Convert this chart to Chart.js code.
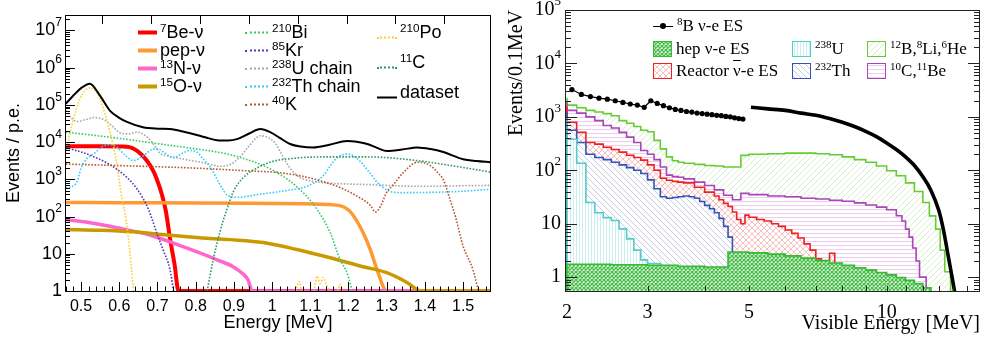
<!DOCTYPE html>
<html lang="en">
<head>
<meta charset="UTF-8">
<title>Solar neutrino spectra</title>
<style>
  html, body { margin: 0; padding: 0; background: #fff; }
  #page { position: relative; width: 984px; height: 342px; overflow: hidden; }
  #page canvas { position: absolute; top: 0; }
  #leftChart { left: 0; }
  #rightChart { left: 500px; }
  #keys { position: absolute; left: 0; top: 0; width: 984px; height: 342px; pointer-events: none; }
  .key { position: absolute; display: flex; align-items: center; white-space: nowrap; line-height: 1; transform: translateY(-50%); color: #000; }
  .key.sans { font: 18px "Liberation Sans", Arial, sans-serif; }
  .key.serif { font: 17px "Liberation Serif", "Times New Roman", serif; }
  .key sup { font-size: 0.65em; position: relative; top: -0.5em; vertical-align: baseline; line-height: 0; }
  .key .stroke { display: inline-block; height: 0; }
  .key .box { display: inline-block; width: 19px; height: 16px; box-sizing: border-box; margin-right: 4px; }
  .key .bar { text-decoration: overline; }
</style>
</head>
<body>
<div id="page">
  <canvas id="leftChart" width="500" height="342"></canvas>
  <canvas id="rightChart" width="484" height="342"></canvas>
  <div id="keys"></div>
</div>

<script type="text/javascript" src="https://cdn.jsdelivr.net/npm/chart.js/dist/chart.umd.min.js"></script>
<script>
  // ---------- left panel: expected spectra, [energy MeV, events / p.e.] ----------
  const be7 = [[0.46,7800],[0.55,7700],[0.62,7500],[0.647,5800],[0.673,3100],[0.69,1600],[0.70,900],[0.712,380],[0.722,140],[0.733,25],[0.745,5],[0.755,1],[1.575,1]];
  const pep = [[0.46,240],[0.6,236],[0.8,230],[1.0,225],[1.15,210],[1.2,150],[1.23,54],[1.257,13],[1.275,3.7],[1.30,1],[1.575,1]];
  const n13 = [[0.46,83],[0.52,69],[0.594,50],[0.68,32],[0.767,15.5],[0.856,6.9],[0.898,4.5],[0.925,2.8],[0.937,2],[0.948,1],[1.575,1]];
  const o15 = [[0.46,45],[0.55,43],[0.636,39],[0.725,32],[0.81,27],[0.89,24],[0.977,20],[1.065,13],[1.152,7.8],[1.238,4.5],[1.30,3.1],[1.353,1.7],[1.39,1],[1.575,1]];
  const bi210 = [[0.46,18600],[0.6,12600],[0.707,8900],[0.80,6600],[0.882,4800],[0.95,3000],[1.0,1800],[1.047,890],[1.09,355],[1.118,155],[1.152,37],[1.178,6.9],[1.196,3.1],[1.21,1]];
  const kr85 = [[0.46,7200],[0.53,4200],[0.594,1860],[0.646,560],[0.676,160],[0.70,32],[0.715,12.6],[0.733,3.7],[0.742,1]];
  const u238 = [[0.46,70800],[0.475,44700],[0.49,35500],[0.51,39800],[0.535,45700],[0.56,39800],[0.58,28200],[0.602,17800],[0.625,16600],[0.646,18600],[0.665,15800],[0.686,10000],[0.707,5000],[0.73,4200],[0.751,3800],[0.78,3300],[0.812,2900],[0.84,2500],[0.864,2240],[0.89,2500],[0.916,4000],[0.94,7900],[0.969,14800],[0.99,13200],[1.01,8900],[1.029,4000],[1.047,2000],[1.065,1260],[1.09,955],[1.126,830],[1.257,720],[1.387,650],[1.571,690]];
  const th232 = [[0.46,600],[0.475,630],[0.49,890],[0.50,2000],[0.515,3550],[0.535,5000],[0.555,7600],[0.576,8500],[0.595,7100],[0.615,4500],[0.636,3200],[0.662,4200],[0.685,6300],[0.70,6600],[0.72,5000],[0.741,3800],[0.765,5000],[0.786,6000],[0.805,5200],[0.82,3500],[0.84,2000],[0.856,1000],[0.87,560],[0.882,380],[0.91,330],[0.935,350],[0.97,400],[1.008,450],[1.05,525],[1.081,600],[1.11,800],[1.134,1260],[1.155,2500],[1.17,3800],[1.199,4800],[1.22,3800],[1.238,2500],[1.258,1400],[1.275,830],[1.30,525],[1.317,450],[1.35,440],[1.43,450],[1.50,480],[1.571,540]];
  const k40 = [[0.46,2570],[0.6,2340],[0.8,2000],[0.95,1660],[1.008,1550],[1.081,1200],[1.13,890],[1.17,650],[1.223,350],[1.257,200],[1.27,132],[1.285,200],[1.30,450],[1.317,710],[1.345,1580],[1.38,2880],[1.41,2500],[1.432,1580],[1.45,890],[1.466,280],[1.48,100],[1.50,16],[1.526,3.7],[1.54,1]];
  const po210 = [[0.46,5000],[0.47,15800],[0.48,41700],[0.497,144500],[0.51,240000],[0.524,288000],[0.537,240000],[0.55,145000],[0.563,56000],[0.576,18600],[0.594,2500],[0.607,300],[0.615,126],[0.628,11],[0.637,1],
                 [0.70,null],[1.062,1],[1.07,1.8],[1.078,1],[1.09,null],[1.11,1],[1.118,2.5],[1.126,1.6],[1.134,2.3],[1.142,1.5],[1.15,1],[1.16,null],[1.172,1],[1.178,1.5],[1.184,1]];
  const c11 = [[0.83,1],[0.845,6.3],[0.864,40],[0.882,160],[0.90,500],[0.93,1260],[0.96,2000],[1.0,3000],[1.06,3700],[1.13,4000],[1.25,4000],[1.39,3100],[1.48,2240],[1.575,1550]];
  const dataset = [[0.46,107000],[0.48,178000],[0.50,282000],[0.523,372000],[0.55,174000],[0.576,69000],[0.60,45000],[0.62,35000],[0.662,25100],[0.70,23000],[0.733,22400],[0.76,20000],[0.793,16600],[0.825,13500],[0.856,11200],[0.885,11000],[0.908,12000],[0.94,17000],[0.969,22400],[0.995,18600],[1.02,13000],[1.047,8900],[1.075,7600],[1.107,7200],[1.15,8500],[1.196,10700],[1.225,10000],[1.249,8900],[1.275,7000],[1.301,5750],[1.34,6300],[1.38,7200],[1.415,6500],[1.448,5400],[1.50,3470],[1.535,3100],[1.571,2880]];

  const energyTicks = [0.5, 0.6, 0.7, 0.8, 0.9, 1.0, 1.1, 1.2, 1.3, 1.4, 1.5];
  const topAxisTicks = [0.555, 0.683, 0.811, 0.939, 1.067, 1.195, 1.323, 1.451];

  // ---------- right panel: stacked histograms, [bin low edge MeV, events / 0.1 MeV] ----------
  const b12Li8He6 = [[2.0,2290],[2.1,1660],[2.2,1480],[2.3,1320],[2.4,1230],[2.5,1150],[2.6,1050],[2.7,850],[2.8,760],[2.9,660],[3.0,560],[3.1,525],[3.2,363],[3.3,251],[3.4,178],[3.5,151],[3.6,141],[3.8,135],[4.0,129],[4.2,123],[4.4,120],[4.6,115],[4.8,115],[5.0,190],[5.5,200],[6.0,204],[6.5,209],[7.0,209],[7.5,204],[8.0,195],[8.5,178],[9.0,158],[9.5,141],[10.0,120],[10.5,98],[11.0,79],[11.5,58],[12.0,40],[12.4,25],[12.8,14],[13.1,7.9],[13.4,3.2],[13.6,1.26],[13.8,null]];
  const c10Be11 = [[2.0,1860],[2.1,1320],[2.2,1175],[2.3,1000],[2.4,850],[2.5,690],[2.6,620],[2.7,513],[2.8,417],[2.9,331],[3.0,234],[3.1,200],[3.2,158],[3.3,115],[3.4,81],[3.5,76],[3.6,74],[3.8,69],[4.0,60],[4.2,52],[4.4,43],[4.6,34],[4.8,28],[5.0,37],[5.5,35],[6.0,33],[6.5,32],[7.0,30],[7.5,29],[8.0,27.5],[8.5,26.3],[9.0,24.5],[9.5,22.4],[10.0,20.4],[10.5,18.2],[10.8,14.1],[11.0,11.2],[11.2,7.9],[11.4,5.6],[11.6,3.5],[11.8,2.0],[12.0,1.0],[12.2,null]];
  const reactor = [[2.0,1510],[2.1,794],[2.2,513],[2.3,331],[2.4,309],[2.5,269],[2.6,245],[2.7,219],[2.8,191],[2.9,174],[3.0,155],[3.1,126],[3.2,100],[3.3,71],[3.4,65],[3.5,62],[3.6,60],[3.8,58],[4.0,48],[4.2,39],[4.3,33],[4.4,28],[4.5,24],[4.6,21],[4.7,16.6],[4.8,12],[4.9,10],[5.0,14.5],[5.2,13.2],[5.4,12],[5.6,11.2],[5.8,10],[6.0,8.9],[6.2,7.6],[6.4,6.6],[6.6,5.4],[6.8,4.2],[7.0,3.2],[7.2,2.2],[7.5,2.0],[7.6,2.8],[7.7,null]];
  const th232Bkg = [[2.0,1200],[2.1,562],[2.2,331],[2.3,200],[2.4,174],[2.5,158],[2.6,141],[2.7,126],[2.8,112],[2.9,100],[3.0,87],[3.1,66],[3.2,45],[3.3,32],[3.4,30],[3.5,31],[3.6,32],[3.7,33],[3.8,32],[3.9,30],[4.0,26],[4.1,22],[4.2,19],[4.3,16],[4.4,12.6],[4.5,8.9],[4.6,5.6],[4.7,2.8],[4.8,2.0],[4.9,1.66],[5.0,null]];
  const u238Bkg = [[2.0,980],[2.1,380],[2.2,135],[2.3,25],[2.4,16],[2.5,13],[2.6,11.5],[2.7,8],[2.8,5.2],[2.9,3.2],[3.0,2.1],[3.1,1.8],[3.2,null]];
  const hep = [[2.0,1.78],[2.5,1.74],[3.0,1.70],[3.5,1.66],[4.0,1.60],[4.5,1.55],[5.0,2.95],[5.5,2.85],[6.0,2.70],[6.5,2.50],[7.0,2.27],[7.5,2.04],[8.0,1.84],[8.5,1.66],[9.0,1.50],[9.5,1.35],[10.0,1.22],[10.5,1.10],[11.0,0.98],[11.5,0.87],[12.0,0.76],[12.5,0.63],[13.0,0.50],[13.5,null]];
  // 8B signal, [bin centre MeV, events]
  const b8Below5 = [[2.05,3240],[2.15,2630],[2.25,2400],[2.35,2240],[2.45,2140],[2.55,2000],[2.65,1860],[2.75,1740],[2.85,1660],[2.95,1510],[3.05,2000],[3.15,1780],[3.25,1620],[3.35,1480],[3.45,1380],[3.55,1320],[3.65,1260],[3.75,1230],[3.85,1175],[3.95,1150],[4.05,1120],[4.15,1100],[4.25,1070],[4.35,1050],[4.45,1020],[4.55,1000],[4.65,960],[4.75,930],[4.85,910]];
  const b8Above5 = [[5.05,1510],[5.5,1410],[6.0,1320],[6.5,1175],[7.0,1070],[7.5,930],[8.0,794],[8.5,660],[9.0,537],[9.5,427],[10.0,324],[10.5,245],[11.0,178],[11.5,123],[12.0,76],[12.5,42],[13.0,17.8],[13.3,7.9],[13.6,2.8],[13.9,1.0],[14.1,0.5]];

  const visibleTicks = [2, 3, 5, 10];

  const sans = '"Liberation Sans", Arial, sans-serif';
  const serif = '"Liberation Serif", "Times New Roman", serif';

  const toPoints = arr => arr.map(([x, y]) => ({ x, y }));

  // histogram outline: vertical rise at the first edge, drop to nothing after the last bin
  function histPoints(bins) {
    const pts = [{ x: bins[0][0], y: 0.01 }];
    for (let i = 0; i < bins.length - 1; i++) pts.push({ x: bins[i][0], y: bins[i][1] });
    const end = bins[bins.length - 1][0];
    pts.push({ x: end, y: bins[bins.length - 2][1] });
    pts.push({ x: end, y: 0.01 });
    return pts;
  }

  // fill patterns
  function tile(size, bg, draw) {
    const c = document.createElement('canvas');
    c.width = size; c.height = size;
    const g = c.getContext('2d');
    g.fillStyle = bg; g.fillRect(0, 0, size, size);
    draw(g, size);
    return c;
  }
  function hatch(g, s, color, lw, dirs) {
    g.strokeStyle = color; g.lineWidth = lw; g.beginPath();
    for (let k = -1; k <= 1; k++) {
      if (dirs.includes('/')) { g.moveTo(k * s, s); g.lineTo(k * s + s, 0); }
      if (dirs.includes('\\')) { g.moveTo(k * s, 0); g.lineTo(k * s + s, s); }
    }
    g.stroke();
  }
  const tiles = {
    b12: tile(6, '#fff', (g, s) => hatch(g, s, '#d3ebc8', 0.9, '/')),
    c10: tile(4, '#fff', (g, s) => { g.fillStyle = '#eeccee'; g.fillRect(0, 1, s, 1); }),
    reactor: tile(6, '#fff', (g, s) => hatch(g, s, '#f6baba', 0.9, '/\\')),
    th: tile(6, '#fff', (g, s) => hatch(g, s, '#c3c6de', 0.9, '\\')),
    u: tile(3, '#fff', (g, s) => { g.fillStyle = '#c8eeee'; g.fillRect(1, 0, 1, s); }),
    hep: tile(4, '#dcf3dc', (g, s) => hatch(g, s, '#44bb44', 1.2, '/\\')),
  };
  const pat = t => t.getContext('2d').createPattern(t, 'repeat');

  const leftSeries = [
    { data: be7, color: '#ff0000', width: 4, key: '<sup>7</sup>Be-ν' },
    { data: pep, color: '#ff9933', width: 3.5, key: 'pep-ν' },
    { data: n13, color: '#ff66cc', width: 3.5, key: '<sup>13</sup>N-ν' },
    { data: o15, color: '#c99a00', width: 3.5, key: '<sup>15</sup>O-ν' },
    { data: bi210, color: '#33cc66', dotted: true, key: '<sup>210</sup>Bi' },
    { data: kr85, color: '#5533bb', dotted: true, key: '<sup>85</sup>Kr' },
    { data: u238, color: '#a8a8a8', dotted: true, key: '<sup>238</sup>U chain' },
    { data: th232, color: '#33ccff', dotted: true, key: '<sup>232</sup>Th chain' },
    { data: k40, color: '#b35a33', dotted: true, key: '<sup>40</sup>K' },
    { data: po210, color: '#ffcc33', dotted: true, key: '<sup>210</sup>Po' },
    { data: c11, color: '#2e9960', dotted: true, key: '<sup>11</sup>C' },
    { data: dataset, color: '#000000', width: 2, key: 'dataset' },
  ];

  const rightSeries = [
    { data: b12Li8He6, color: '#66cc33', tile: tiles.b12, key: '<sup>12</sup>B,<sup>8</sup>Li,<sup>6</sup>He' },
    { data: c10Be11, color: '#aa44bb', tile: tiles.c10, key: '<sup>10</sup>C,<sup>11</sup>Be' },
    { data: reactor, color: '#ee2222', tile: tiles.reactor, key: 'Reactor <span class="bar">ν</span>-e ES' },
    { data: th232Bkg, color: '#3355bb', tile: tiles.th, key: '<sup>232</sup>Th' },
    { data: u238Bkg, color: '#55cccc', tile: tiles.u, key: '<sup>238</sup>U' },
    { data: hep, color: '#33bb33', tile: tiles.hep, key: 'hep ν-e ES' },
  ];

  function drawDecade(ctx, d, x, y, size, supSize, family) {
    ctx.textBaseline = 'middle';
    ctx.textAlign = 'right';
    ctx.fillStyle = '#000';
    if (d < 2) {
      ctx.font = size + 'px ' + family;
      ctx.fillText(d === 0 ? '1' : '10', x, y);
      return;
    }
    ctx.font = supSize + 'px ' + family;
    const w = ctx.measureText(String(d)).width;
    ctx.fillText(String(d), x, y - size * 0.42);
    ctx.font = size + 'px ' + family;
    ctx.fillText('10', x - w, y);
  }

  // frame, inward ticks and power-of-ten labels for the left panel
  const leftFrame = {
    id: 'leftFrame',
    afterDatasetsDraw(chart) {
      const { ctx, chartArea: a, scales: { x, y } } = chart;
      ctx.save();
      ctx.strokeStyle = '#000';
      ctx.lineWidth = 1;
      ctx.strokeRect(a.left + 0.5, a.top + 0.5, a.right - a.left - 1, a.bottom - a.top);
      ctx.beginPath();
      for (let i = 23; i <= 79; i++) {
        const v = i * 0.02;
        if (v < x.min || v > x.max) continue;
        const px = Math.round(x.getPixelForValue(v)) + 0.5;
        ctx.moveTo(px, a.bottom); ctx.lineTo(px, a.bottom - (i % 5 === 0 ? 9 : 4.5));
      }
      topAxisTicks.forEach(v => {
        const px = Math.round(x.getPixelForValue(v)) + 0.5;
        ctx.moveTo(px, a.top); ctx.lineTo(px, a.top + 9);
      });
      for (let d = 0; d <= 7; d++) {
        for (let k = 1; k <= 9; k++) {
          const v = k * Math.pow(10, d);
          if (v > y.max) break;
          const py = Math.round(y.getPixelForValue(v)) + 0.5;
          ctx.moveTo(a.left, py); ctx.lineTo(a.left + (k === 1 ? 10 : 5), py);
        }
      }
      ctx.stroke();
      for (let d = 0; d <= 7; d++) {
        drawDecade(ctx, d, a.left - 3, y.getPixelForValue(Math.pow(10, d)), 18, 12, sans);
      }
      ctx.restore();
    }
  };

  // frame, ticks on both vertical axes and labels for the right panel
  const rightFrame = {
    id: 'rightFrame',
    afterDatasetsDraw(chart) {
      const { ctx, chartArea: a, scales: { x, y } } = chart;
      ctx.save();
      ctx.strokeStyle = '#222';
      ctx.lineWidth = 1;
      ctx.strokeRect(a.left + 0.5, a.top + 0.5, a.right - a.left - 1, a.bottom - a.top);
      ctx.beginPath();
      for (let d = -1; d <= 5; d++) {
        for (let k = 1; k <= 9; k++) {
          const v = k * Math.pow(10, d);
          if (v < y.min || v > y.max) continue;
          const py = Math.round(y.getPixelForValue(v)) + 0.5;
          const len = k === 1 ? 12 : 6;
          ctx.moveTo(a.left, py); ctx.lineTo(a.left + len, py);
          ctx.moveTo(a.right, py); ctx.lineTo(a.right - len, py);
        }
      }
      for (let e = 3; e <= 15; e++) {
        const px = Math.round(x.getPixelForValue(e)) + 0.5;
        ctx.moveTo(px, a.bottom); ctx.lineTo(px, a.bottom - 5);
      }
      ctx.stroke();
      for (let d = 0; d <= 5; d++) {
        drawDecade(ctx, d, a.left - 4, y.getPixelForValue(Math.pow(10, d)), 20, 13, serif);
      }
      ctx.restore();
    }
  };

  new Chart(document.getElementById('leftChart'), {
    type: 'line',
    data: {
      datasets: leftSeries.map((s, i) => ({
        data: toPoints(s.data),
        borderColor: s.color,
        borderWidth: s.width || 1.6,
        borderDash: s.dotted ? [1.6, 1.6] : [],
        pointRadius: 0,
        fill: false,
        cubicInterpolationMode: 'monotone',
        order: leftSeries.length - i,
      }))
    },
    options: {
      responsive: false,
      animation: false,
      devicePixelRatio: 1,
      layout: { padding: { top: 15, right: 9, left: 0, bottom: 0 } },
      plugins: { legend: { display: false }, tooltip: { enabled: false } },
      scales: {
        x: {
          type: 'linear', min: 0.458, max: 1.573,
          grid: { display: false, drawTicks: false },
          border: { display: false },
          ticks: {
            color: '#000', font: { family: sans, size: 16 }, padding: 6,
            maxRotation: 0, autoSkip: false,
            callback: v => String(Math.round(v * 10) / 10)
          },
          afterBuildTicks: s => { s.ticks = energyTicks.map(v => ({ value: v })); },
          afterFit: s => { s.height = 51; },
          title: { display: true, text: 'Energy [MeV]', color: '#000', font: { family: sans, size: 18 }, padding: { top: 0, bottom: 8 } }
        },
        y: {
          type: 'logarithmic', min: 1, max: 2.6e7,
          grid: { display: false, drawTicks: false },
          border: { display: false },
          ticks: { display: false },
          afterFit: s => { s.width = 65; },
          title: { display: true, text: 'Events / p.e.', color: '#000', font: { family: sans, size: 18 }, padding: { top: 3, bottom: 0 } }
        }
      }
    },
    plugins: [leftFrame]
  });

  const rightDatasets = rightSeries.map(s => ({
    data: histPoints(s.data),
    borderColor: s.color,
    borderWidth: 1.6,
    backgroundColor: pat(s.tile),
    fill: 'start',
    stepped: 'after',
    pointRadius: 0,
  }));
  rightDatasets.push({
    data: toPoints(b8Below5),
    borderColor: '#000', borderWidth: 1.2,
    pointRadius: 2.6, pointBackgroundColor: '#000', pointBorderWidth: 0,
    fill: false,
  });
  rightDatasets.push({
    data: toPoints(b8Above5),
    borderColor: '#000', borderWidth: 3.6,
    pointRadius: 0, fill: false,
    cubicInterpolationMode: 'monotone',
  });
  rightDatasets.forEach((d, i) => { d.order = rightDatasets.length - i; });

  new Chart(document.getElementById('rightChart'), {
    type: 'line',
    data: { datasets: rightDatasets },
    options: {
      responsive: false,
      animation: false,
      devicePixelRatio: 1,
      layout: { padding: { top: 10, right: 3, left: 0, bottom: 0 } },
      plugins: { legend: { display: false }, tooltip: { enabled: false } },
      scales: {
        x: {
          type: 'logarithmic', min: 1.98, max: 16,
          grid: { display: false, drawTicks: false },
          border: { display: false },
          ticks: {
            color: '#000', font: { family: serif, size: 20 }, padding: 10,
            maxRotation: 0, autoSkip: false,
            callback: v => String(v)
          },
          afterBuildTicks: s => { s.ticks = visibleTicks.map(v => ({ value: v })); },
          afterFit: s => { s.height = 51; },
          title: { display: true, text: 'Visible Energy [MeV]', align: 'end', color: '#000', font: { family: serif, size: 20 }, padding: { top: 0, bottom: 6 } }
        },
        y: {
          type: 'logarithmic', min: 0.55, max: 1e5,
          grid: { display: false, drawTicks: false },
          border: { display: false },
          ticks: { display: false },
          afterFit: s => { s.width = 65; },
          title: { display: true, text: 'Events/0.1MeV', align: 'end', color: '#000', font: { family: serif, size: 20 }, padding: { top: 5, bottom: 0 } }
        }
      }
    },
    plugins: [rightFrame]
  });

  // ---------- legends ----------
  const keys = document.getElementById('keys');
  function addKey(cls, x, y, swatch, html) {
    const el = document.createElement('div');
    el.className = 'key ' + cls;
    el.style.left = x + 'px';
    el.style.top = y + 'px';
    el.appendChild(swatch);
    const t = document.createElement('span');
    t.innerHTML = html;
    el.appendChild(t);
    keys.appendChild(el);
  }
  function stroke(width, gap, color, lw, dotted, drop) {
    const s = document.createElement('span');
    s.className = 'stroke';
    s.style.width = width + 'px';
    s.style.marginRight = gap + 'px';
    s.style.borderTop = lw + 'px ' + (dotted ? 'dotted' : 'solid') + ' ' + color;
    if (drop) s.style.transform = 'translateY(' + drop + 'px)';
    return s;
  }
  function box(series) {
    const s = document.createElement('span');
    s.className = 'box';
    s.style.border = '1.5px solid ' + series.color;
    s.style.backgroundImage = 'url(' + series.tile.toDataURL() + ')';
    return s;
  }

  // left panel, three columns
  leftSeries.slice(0, 4).forEach((s, i) => addKey('sans', 138, 32 + i * 18, stroke(19, 3, s.color, 4, false, 0), s.key));
  leftSeries.slice(4, 9).forEach((s, i) => addKey('sans', 245, 32 + i * 18, stroke(23, 4, s.color, 2, true, 0), s.key));
  leftSeries.slice(9).forEach((s, i) => {
    const solid = !s.dotted;
    addKey('sans', 377, 32 + i * 30, stroke(20, 3, s.color, 2, !solid, 5), s.key);
  });

  // right panel
  const b8Swatch = document.createElement('span');
  b8Swatch.className = 'stroke';
  b8Swatch.style.cssText = 'width:20px;margin-right:4px;border-top:1.3px solid #000;position:relative;';
  const dot = document.createElement('span');
  dot.style.cssText = 'position:absolute;left:7px;top:-3.6px;width:6px;height:6px;border-radius:50%;background:#000;';
  b8Swatch.appendChild(dot);
  addKey('serif', 653, 26, b8Swatch, '<sup>8</sup>B ν-e ES');
  addKey('serif', 653, 49, box(rightSeries[5]), rightSeries[5].key);
  addKey('serif', 653, 71, box(rightSeries[2]), rightSeries[2].key);
  addKey('serif', 792, 49, box(rightSeries[4]), rightSeries[4].key);
  addKey('serif', 792, 71, box(rightSeries[3]), rightSeries[3].key);
  addKey('serif', 867, 49, box(rightSeries[0]), rightSeries[0].key);
  addKey('serif', 867, 71, box(rightSeries[1]), rightSeries[1].key);
</script>
</body>
</html>
